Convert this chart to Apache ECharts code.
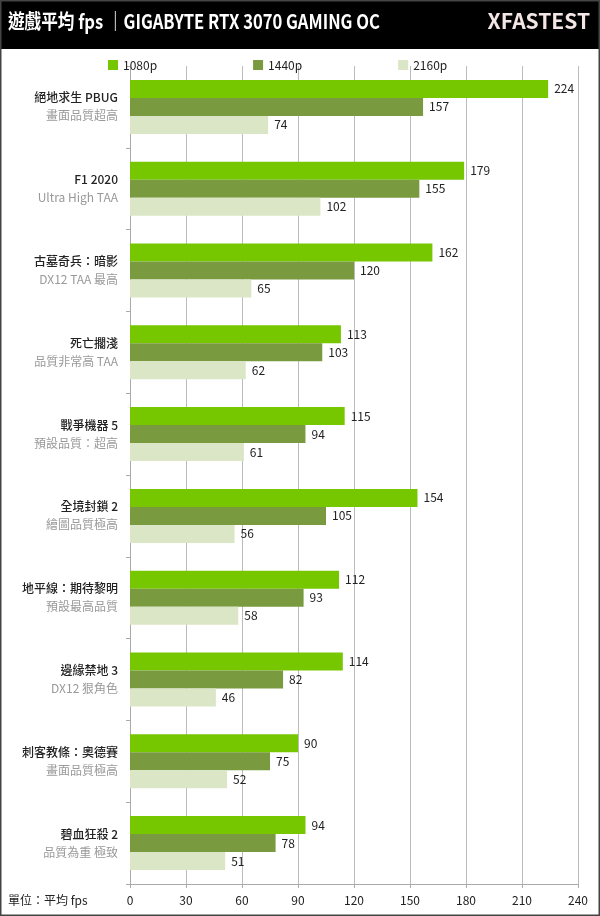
<!DOCTYPE html>
<html>
<head>
<meta charset="utf-8">
<script src="https://cdn.jsdelivr.net/npm/echarts@6/dist/echarts.min.js"></script>
<style>
  html, body { margin: 0; padding: 0; background: #fff; }
  #chart { width: 600px; height: 916px; }
</style>
</head>
<body>
<div id="chart"></div>
<script>
// games and their quality settings, top to bottom
const games = ['絕地求生 PBUG', 'F1 2020', '古墓奇兵：暗影', '死亡擱淺', '戰爭機器 5',
  '全境封鎖 2', '地平線：期待黎明', '邊緣禁地 3', '刺客教條：奧德賽', '碧血狂殺 2'];
const settings = ['畫面品質超高', 'Ultra High TAA', 'DX12 TAA 最高', '品質非常高 TAA', '預設品質：超高',
  '繪圖品質極高', '預設最高品質', 'DX12 狠角色', '畫面品質極高', '品質為重 極致'];

const fps1080 = [224, 179, 162, 113, 115, 154, 112, 114, 90, 94];
const fps1440 = [157, 155, 120, 103, 94, 105, 93, 82, 75, 78];
const fps2160 = [74, 102, 65, 62, 61, 56, 58, 46, 52, 51];

const xTicks = { min: 0, max: 240, interval: 30 };

const font = '"Noto Sans CJK TC", "Noto Sans", sans-serif';
const colors = ['#76c600', '#7a9a40', '#dbe6c6'];

let chart = echarts.init(document.getElementById('chart'));

function barSeries(name, data, color) {
  return {
    name: name,
    type: 'bar',
    data: data,
    barWidth: 18,
    barGap: '0%',
    itemStyle: { color: color },
    label: {
      show: true,
      position: 'right',
      distance: 6,
      color: '#222',
      fontSize: 12,
      fontFamily: font
    }
  };
}

let option = {
  backgroundColor: '#fff',
  textStyle: { fontFamily: font },
  graphic: [
    { type: 'rect', shape: { x: 0, y: 0, width: 600, height: 49 }, style: { fill: '#000' }, z: 0 },
    { type: 'rect', shape: { x: 0.5, y: 0.5, width: 599, height: 915 },
      style: { fill: null, stroke: '#444', lineWidth: 2 }, z: 10 },
    { type: 'text', x: 8, y: 11, scaleX: 0.83,
      style: { text: '遊戲平均 fps ｜GIGABYTE RTX 3070 GAMING OC', fill: '#fff',
        font: 'bold 20px ' + font } },
    { type: 'text', right: 10, top: 11,
      style: { text: 'XFASTEST', fill: '#f5e6e6', font: 'bold 21px ' + font } },
    { type: 'text', left: 8, top: 894,
      style: { text: '單位：平均 fps', fill: '#222', font: '12px ' + font } }
  ],
  legend: {
    top: 54,
    left: 103,
    itemWidth: 10,
    itemHeight: 10,
    itemGap: 96,
    icon: 'rect',
    textStyle: { fontSize: 12, color: '#222', fontFamily: font },
    data: ['1080p', '1440p', '2160p']
  },
  grid: { left: 130, right: 22, top: 66, bottom: 32, containLabel: false },
  xAxis: {
    type: 'value',
    min: xTicks.min,
    max: xTicks.max,
    interval: xTicks.interval,
    axisLine: { show: true, lineStyle: { color: '#aaa' } },
    axisTick: { show: true, length: 4, lineStyle: { color: '#aaa' } },
    axisLabel: { color: '#222', fontSize: 12, margin: 10, fontFamily: font },
    splitLine: { show: true, lineStyle: { color: '#bbb' } }
  },
  yAxis: {
    type: 'category',
    inverse: true,
    data: games.map((g, i) => g + '\n' + settings[i]),
    axisLine: { show: true, lineStyle: { color: '#aaa' } },
    axisTick: { show: true, length: 4, lineStyle: { color: '#aaa' } },
    axisLabel: {
      margin: 12,
      formatter: function (v) {
        let parts = v.split('\n');
        return '{a|' + parts[0] + '}\n{b|' + parts[1] + '}';
      },
      rich: {
        a: { fontSize: 12, color: '#222', fontWeight: 500, lineHeight: 18, align: 'right', fontFamily: font },
        b: { fontSize: 12, color: '#999', lineHeight: 18, align: 'right', fontFamily: font }
      }
    }
  },
  series: [
    barSeries('1080p', fps1080, colors[0]),
    barSeries('1440p', fps1440, colors[1]),
    barSeries('2160p', fps2160, colors[2])
  ]
};

chart.setOption(option);
window.addEventListener('resize', () => { chart.resize(); });
</script>
</body>
</html>
